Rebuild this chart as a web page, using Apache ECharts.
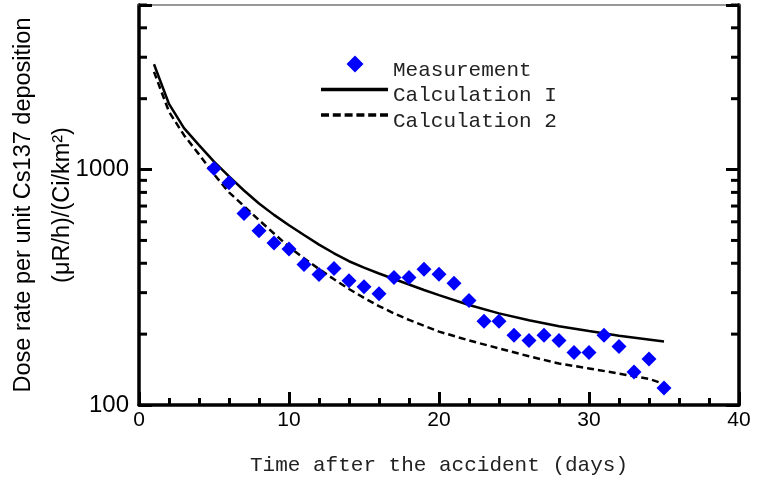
<!DOCTYPE html>
<html>
<head>
<meta charset="utf-8">
<script src="https://cdn.jsdelivr.net/npm/echarts@6/dist/echarts.min.js"></script>
<style>html,body{margin:0;padding:0;background:#fff}#c{width:757px;height:482px}</style>
</head>
<body>
<div id="c"></div>
<script>
// Measurement: day, dose rate
const measDays = [5,6,7,8,9,10,11,12,13,14,15,16,17,18,19,20,21,22,23,24,25,26,27,28,29,30,31,32,33,34,35];
const measValues = [1010,880,650,550,488,460,395,358,380,337,318,297,348,348,377,359,329,278,227,227,198,188,198,188,167,167,198,177,138,157,118];
// Calculation I (solid)
const calc1Days = [1,2,3,4,5,6,7,8,9,10,11,12,13,14,15,16,17,18,19,20,22,24,26,28,30,32,35];
const calc1Values = [2800,1900,1500,1270,1080,935,815,718,642,580,527,480,441,408,383,362,343,325,308,293,266,245,229,216,206,197,186];
// Calculation 2 (dashed)
const calc2Days = [1,2,3,4,5,6,7,8,9,10,11,12,13,14,15,16,17,18,19,20,22,24,26,28,30,32,34,35];
const calc2Values = [2600,1760,1400,1160,955,800,700,610,535,470,420,378,342,311,285,263,245,230,217,205,188,174,161,150,143,136,129,123];
// Axis ticks
const xTickLabels = [0,10,20,30,40];
const yTickLabels = [100,1000];
const yMinorTicks = [200,300,400,500,600,700,800,900,2000,3000,4000,5000];

const zip = (a,b) => a.map((d,i)=>[d,b[i]]);
const monoFont = '"Courier New","Liberation Mono",monospace';
const sansFont = 'Arial,"Liberation Sans",sans-serif';

// legend icons (67 x 29 box, mark drawn in upper part so the text sits a little lower)
const box = 'M0,0L0.001,0Z M67,29L66.999,29Z ';
const iconDiamond = 'path://' + box + 'M34,0L42.5,8.5L34,17L25.5,8.5Z';
const iconSolid = 'path://' + box + 'M0,6.75L67,6.75L67,10.25L0,10.25Z';
let dashed = '';
for (let i = 0; i < 6; i++) { const x0 = i * 11.8; dashed += 'M' + x0 + ',6.75L' + (x0 + 8) + ',6.75L' + (x0 + 8) + ',10.25L' + x0 + ',10.25Z '; }
const iconDashed = 'path://' + box + dashed;

const chart = echarts.init(document.getElementById('c'));
const yBase = {
  type: 'log', logBase: 10, min: 100, max: 5000,
  splitLine: {show: false}
};
chart.setOption({
  animation: false,
  backgroundColor: '#fff',
  grid: {left: 139, right: 18, top: 5, bottom: 77, containLabel: false, outerBoundsMode: 'none'},
  legend: {
    orient: 'vertical', left: 321, top: 55.5, padding: 0,
    itemWidth: 67, itemHeight: 29, itemGap: -3.5,
    textStyle: {fontFamily: monoFont, fontSize: 21, color: '#222', lineHeight: 20},
    data: [
      {name: 'Measurement', icon: iconDiamond, itemStyle: {color: '#0000ff', opacity: 1}},
      {name: 'Calculation I', icon: iconSolid, itemStyle: {color: '#000'}},
      {name: 'Calculation 2', icon: iconDashed, itemStyle: {color: '#000'}}
    ]
  },
  xAxis: [{
    type: 'value', min: xTickLabels[0], max: xTickLabels[xTickLabels.length-1], interval: 10,
    position: 'bottom',
    name: 'Time after the accident (days)', nameLocation: 'middle', nameGap: 50,
    nameMoveOverlap: false,
    nameTextStyle: {fontFamily: monoFont, fontSize: 21, color: '#222'},
    axisLine: {show: true, onZero: false, lineStyle: {color: '#000', width: 3.5}},
    axisTick: {show: true, inside: true, length: 13, lineStyle: {color: '#000', width: 3}},
    minorTick: {show: true, splitNumber: 5, length: 7, lineStyle: {color: '#000', width: 3}},
    axisLabel: {fontFamily: sansFont, fontSize: 21, color: '#000', margin: 5},
    splitLine: {show: false}
  }, {
    type: 'value', min: 0, max: 40, position: 'top',
    axisLine: {show: true, onZero: false, lineStyle: {color: '#777', width: 1.5}},
    axisTick: {show: false}, axisLabel: {show: false}, splitLine: {show: false}
  }],
  yAxis: [Object.assign({}, yBase, {
    position: 'left',
    name: 'Dose rate per unit Cs137 deposition\n(μR/h)/(Ci/km²)',
    nameLocation: 'middle', nameGap: 57, nameRotate: 90, nameMoveOverlap: false,
    nameTextStyle: {fontFamily: sansFont, fontSize: 23.5, color: '#000', lineHeight: 39},
    axisLine: {show: true, onZero: false, lineStyle: {color: '#000', width: 3.5}},
    axisTick: {show: true, inside: true, length: 13, lineStyle: {color: '#000', width: 3}},
    axisLabel: {fontFamily: sansFont, fontSize: 24, color: '#000', margin: 10,
      formatter: v => { const r = Math.round(v); return yTickLabels.indexOf(r) >= 0 ? String(r) : ''; }}
  }), Object.assign({}, yBase, {
    position: 'right',
    axisLine: {show: true, onZero: false, lineStyle: {color: '#000', width: 3.5}},
    axisTick: {show: true, inside: true, length: 13, lineStyle: {color: '#000', width: 3}},
    axisLabel: {show: false}
  })],
  series: [
    {
      name: 'Measurement', type: 'scatter', symbol: 'diamond', symbolSize: 15,
      itemStyle: {color: '#0000ff', opacity: 1}, z: 5,
      data: zip(measDays, measValues)
    },
    {
      name: 'Calculation I', type: 'line', symbol: 'none', smooth: false,
      lineStyle: {color: '#000', width: 2.5}, itemStyle: {color: '#000'},
      data: zip(calc1Days, calc1Values), z: 3
    },
    {
      name: 'Calculation 2', type: 'line', symbol: 'none', smooth: false,
      lineStyle: {color: '#000', width: 2.5, type: [7,4]}, itemStyle: {color: '#000'},
      data: zip(calc2Days, calc2Values), z: 3
    },
    {
      name: 'yMinor', type: 'custom', silent: true, clip: false, z: 10,
      data: yMinorTicks.map(v => [0, v]),
      renderItem: function (params, api) {
        const v = api.value(1);
        const pl = api.coord([0, v]);
        const pr = api.coord([40, v]);
        const st = {stroke: '#000', lineWidth: 3};
        return {type: 'group', children: [
          {type: 'line', shape: {x1: pl[0], y1: pl[1], x2: pl[0] + 8, y2: pl[1]}, style: st},
          {type: 'line', shape: {x1: pr[0], y1: pr[1], x2: pr[0] - 8, y2: pr[1]}, style: st}
        ]};
      }
    }
  ]
});
</script>
</body>
</html>
